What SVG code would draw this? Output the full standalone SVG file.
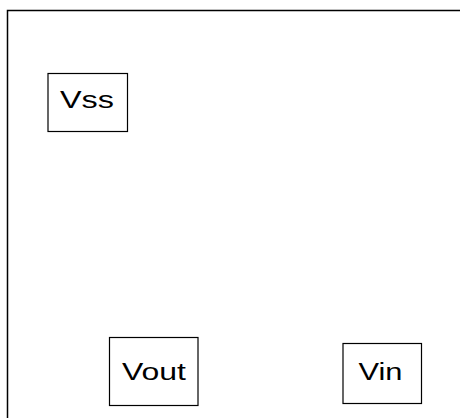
<svg xmlns="http://www.w3.org/2000/svg" width="460" height="418" viewBox="0 0 460 418">
<style>
.box{fill:#fff;stroke:#000;stroke-width:1.2}
.lbl{font-family:"Liberation Sans",Arial,sans-serif;font-size:23px;fill:#000;text-anchor:middle}
</style>
<rect x="0" y="0" width="460" height="418" fill="#fff"/>
<path d="M7.5 430 V10.5 H470" fill="none" stroke="#000" stroke-width="1.5"/>
<g id="connectors"></g>
<g id="vss">
<rect class="box" x="48" y="73.5" width="79.5" height="58"/>
<text class="lbl" x="87" y="107.5" textLength="54" lengthAdjust="spacingAndGlyphs">Vss</text>
</g>
<g id="vout">
<rect class="box" x="109.5" y="337.5" width="88.5" height="68"/>
<text class="lbl" x="154" y="379.5" textLength="64" lengthAdjust="spacingAndGlyphs">Vout</text>
</g>
<g id="vin">
<rect class="box" x="343" y="343.5" width="78.5" height="60"/>
<text class="lbl" x="380.5" y="379.5" textLength="44" lengthAdjust="spacingAndGlyphs">Vin</text>
</g>
</svg>
